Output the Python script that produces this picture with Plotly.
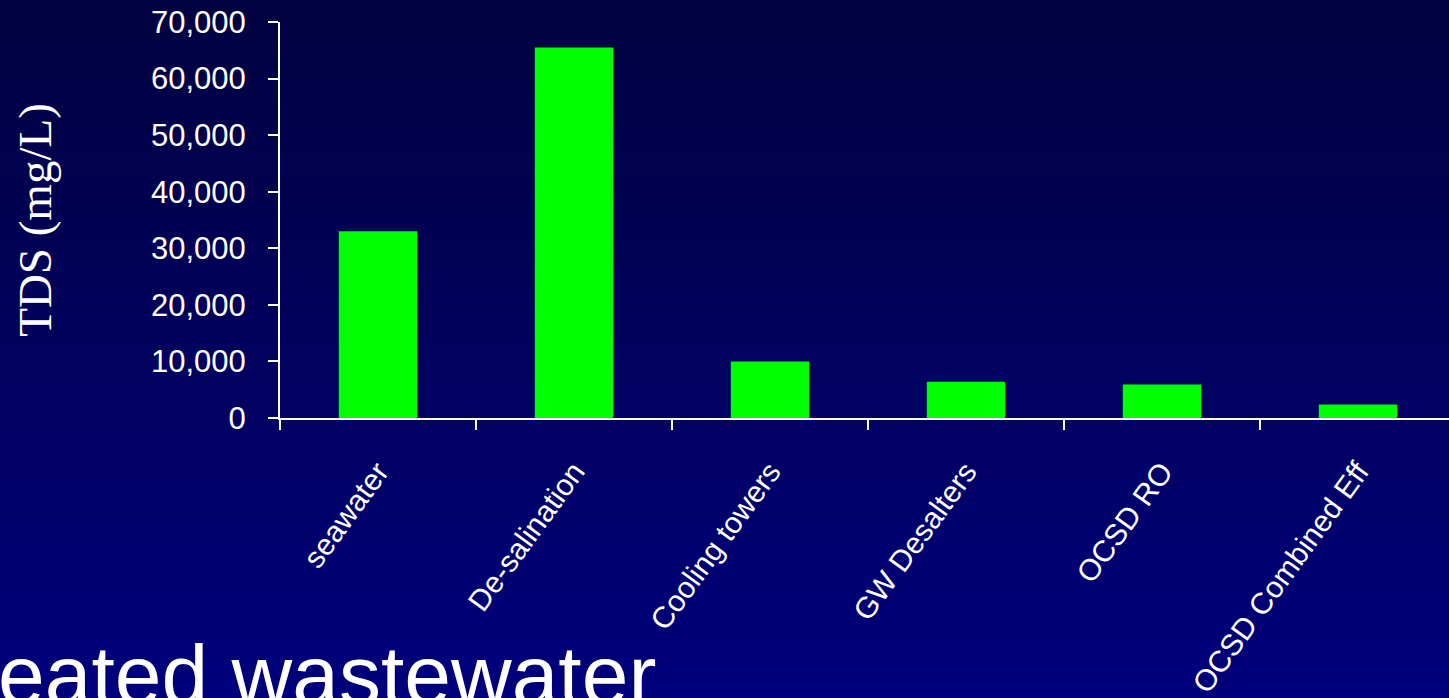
import plotly.graph_objects as go

categories = ["seawater", "De-salination", "Cooling towers", "GW Desalters", "OCSD RO", "OCSD Combined Eff"]
tds_values = [33000, 65500, 10000, 6400, 5900, 2400]
y_ticks = [0, 10000, 20000, 30000, 40000, 50000, 60000, 70000]

W, H = 1449, 698
L, R, T, B = 280, 0, 22, 280
plot_h = H - T - B
plot_w = W - L - R

fig = go.Figure()
fig.add_trace(go.Bar(x=categories, y=tds_values, width=0.4,
                     marker=dict(color="#00FF00", line=dict(width=0))))

# vertical background gradient (paper-referenced bands)
top_c = (2, 2, 64)
bot_c = (0, 0, 124)
n = 60
shapes = []
for i in range(n):
    py0 = H * i / n
    py1 = H * (i + 1) / n + 1
    f = (i + 0.5) / n
    c = tuple(round(top_c[k] + (bot_c[k] - top_c[k]) * f) for k in range(3))
    shapes.append(dict(type="rect", xref="paper", yref="paper", layer="below",
                       x0=-L / plot_w - 0.01, x1=1.01,
                       y0=(H - B - py1) / plot_h, y1=(H - B - py0) / plot_h,
                       fillcolor="rgb(%d,%d,%d)" % c, line=dict(width=0)))

sans = "Liberation Sans, Arial, sans-serif"
fig.update_layout(
    width=W, height=H,
    margin=dict(l=L, r=R, t=T, b=B, autoexpand=False),
    paper_bgcolor="#000060", plot_bgcolor="rgba(0,0,0,0)",
    shapes=shapes, showlegend=False,
    font=dict(family=sans, color="white"),
    xaxis=dict(range=[-0.5, -0.5 + plot_w / 196.0], tickson="boundaries",
               ticks="outside", ticklen=10, tickwidth=2, tickcolor="white",
               showline=True, linecolor="white", linewidth=2, showgrid=False,
               tickangle=-54, tickfont=dict(family=sans, size=30, color="white"),
               ticklabelstandoff=22, automargin=False),
    yaxis=dict(range=[0, 70000], tickvals=y_ticks, tickformat=",",
               ticks="outside", ticklen=10, tickwidth=2, tickcolor="white",
               showline=True, linecolor="white", linewidth=2, showgrid=False,
               zeroline=False, tickfont=dict(family=sans, size=31, color="white"),
               ticklabelstandoff=16, automargin=False,
               title=dict(text="TDS (mg/L)", standoff=85,
                          font=dict(family="Liberation Serif, Times New Roman, serif",
                                    size=47, color="white"))),
    annotations=[dict(text="eated wastewater", xref="paper", yref="paper",
                      x=-(L + 4) / plot_w, y=(H - B - 724) / plot_h,
                      xanchor="left", yanchor="bottom", showarrow=False,
                      font=dict(family=sans, size=84, color="white"))],
)

fig.write_html("out.html", config={"displayModeBar": False},
               post_script="document.body.style.margin='0';document.body.style.padding='0';document.body.style.overflow='hidden';")
